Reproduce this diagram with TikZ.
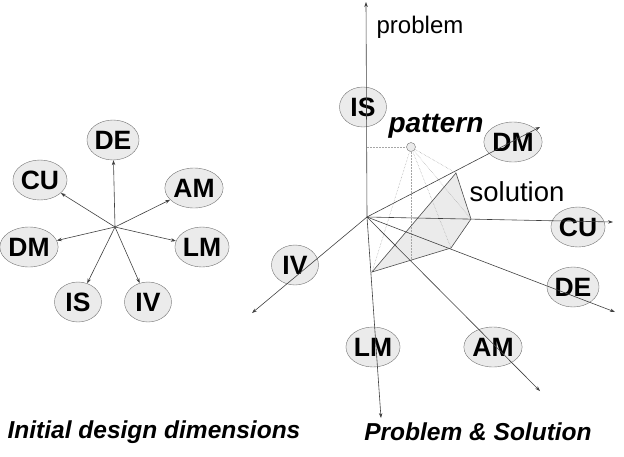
\documentclass[tikz,border=0pt]{standalone}
\usepackage{fontspec}
\setmainfont{Liberation Sans}
\usetikzlibrary{arrows.meta,shapes.geometric}

\tikzset{
    dim/.style={ellipse, draw=black!55, fill=black!8, minimum width=47pt, minimum height=40pt,
        inner sep=0pt, font=\bfseries\fontsize{26.5}{28}\selectfont},
    ray/.style={draw=black!75, line width=0.6pt, -{Stealth[length=5pt,width=3.5pt]}},
    edge/.style={draw=black!70, line width=0.6pt},
    proj/.style={draw=black!35, line width=0.5pt, densely dotted},
    caption/.style={font=\bfseries\itshape\fontsize{24.5}{27}\selectfont}
}

\begin{document}
\begin{tikzpicture}[x=1pt, y=-1pt]
    \useasboundingbox (0,0) rectangle (624,456);

    % --- Initial design dimensions ---
    \coordinate (c) at (115,227);
    \node[dim] (lDE) at (113,140) {DE};
    \node[dim] (lCU) at (40,180) {CU};
    \node[dim] (lAM) at (194,188) {AM};
    \node[dim] (lDM) at (29,247) {DM};
    \node[dim] (lLM) at (202,247) {LM};
    \node[dim] (lIS) at (78,302) {IS};
    \node[dim] (lIV) at (148,302) {IV};
    \foreach \n in {DE,CU,AM,DM,LM,IS,IV} {
        \draw[ray] (c) -- (l\n);
    }
    \node[caption] (capL) at (154,432) {Initial design dimensions};

    % --- Problem & Solution ---
    \coordinate (o) at (367,217);
    \coordinate (aP) at (366,2);
    \coordinate (aDM) at (540,127);
    \coordinate (aCU) at (613,222);
    \coordinate (aDE) at (615,312);
    \coordinate (aAM) at (540,391);
    \coordinate (aLM) at (381,418);
    \coordinate (aIV) at (252,313);

    \coordinate (p1) at (456,173);
    \coordinate (p2) at (471,219);
    \coordinate (p3) at (451,248);
    \coordinate (p4) at (372,272);
    \coordinate (foot) at (411,260);
    \coordinate (h) at (366,147);
    \fill[black!8] (p1) -- (p2) -- (p3) -- (p4) -- cycle;

    \node[circle, draw=black!55, fill=black!8, minimum size=9pt, inner sep=0pt] (pat) at (411,147) {};
    \draw[proj] (pat) -- (h);
    \foreach \q in {p1,p2,p3,p4,foot} {
        \draw[proj] (pat) -- (\q);
    }

    \node[dim] (rIS) at (363,107) {IS};
    \node[dim] (rDM) at (513,142) {DM};
    \node[dim] (rCU) at (578,227) {CU};
    \node[dim] (rDE) at (573,287) {DE};
    \node[dim] (rAM) at (493,347) {AM};
    \node[dim] (rLM) at (373,347) {LM};
    \node[dim] (rIV) at (295,265) {IV};

    \foreach \a in {aP,aDM,aCU,aDE,aAM,aLM,aIV} {
        \draw[ray] (o) -- (\a);
    }
    \draw[edge] (p1) -- (p2) -- (p3) -- (p4) -- cycle;

    \node[font=\fontsize{24}{26}\selectfont] (prob) at (420,27) {problem};
    \node[font=\bfseries\itshape\fontsize{28}{30}\selectfont] (patt) at (436,126) {pattern};
    \node[font=\fontsize{27.5}{30}\selectfont] (sol) at (517,192) {solution};
    \node[caption] (capR) at (478,432) {Problem \& Solution};
\end{tikzpicture}
\end{document}
